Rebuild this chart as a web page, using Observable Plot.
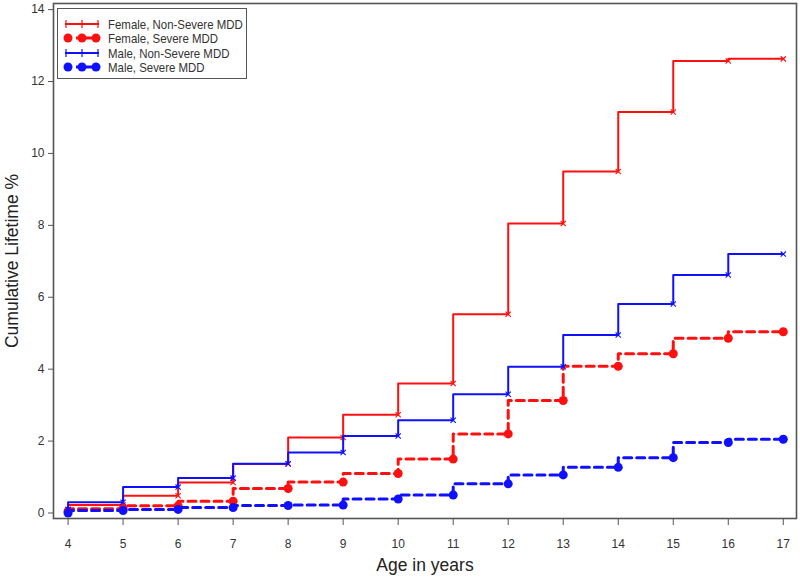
<!DOCTYPE html>
<html><head><meta charset="utf-8">
<script src="https://cdn.jsdelivr.net/npm/d3@7"></script>
<script src="https://cdn.jsdelivr.net/npm/@observablehq/plot@0.6"></script>
<style>
body{margin:0;background:#fff;font-family:"Liberation Sans",Arial,sans-serif}
#wrap{position:relative;width:800px;height:581px;overflow:hidden}
#legend{position:absolute;left:57px;top:8px;width:188px;height:69px;border:1.5px solid #555;background:#fff;box-sizing:content-box}
.row{position:absolute;left:0;height:14px;display:flex;align-items:center}
.row svg{margin-left:5px}
.row span{margin-left:7px;font-size:13px;color:#333;white-space:nowrap;display:inline-block;transform:scaleX(0.88);transform-origin:left center}
g[aria-label="x-axis label"] text, g[aria-label="y-axis label"] text{font-size:17.5px;fill:#222}
</style>
</head><body>
<div id="wrap"><div id="chart"></div><div id="legend"></div></div>
<script>
const ages = [4,5,6,7,8,9,10,11,12,13,14,15,16,17];
const femaleNonSevere = [0.10,0.22,0.48,0.85,1.36,2.10,2.73,3.60,5.53,8.05,9.50,11.15,12.57,12.63];
const femaleSevere    = [0.05,0.12,0.20,0.33,0.68,0.86,1.10,1.50,2.20,3.13,4.08,4.43,4.86,5.04];
const maleNonSevere   = [0.10,0.30,0.72,0.97,1.37,1.68,2.14,2.58,3.30,4.07,4.95,5.81,6.62,7.20];
const maleSevere      = [0.00,0.07,0.10,0.15,0.21,0.22,0.39,0.50,0.81,1.06,1.27,1.54,1.96,2.05];
const seriesNames = ["Female, Non-Severe MDD","Female, Severe MDD","Male, Non-Severe MDD","Male, Severe MDD"];
const yTicks = [0,2,4,6,8,10,12,14];

const RED = "#ff1010", BLUE = "#1010ff";
const rows = (vals) => ages.map((a,i)=>({age:a, value:vals[i]}));
const fns = rows(femaleNonSevere), fs = rows(femaleSevere), mns = rows(maleNonSevere), ms = rows(maleSevere);

const solid = (data, color) => [
  Plot.line(data,{x:"age",y:"value",curve:"step-before",stroke:color,strokeWidth:2}),
  Plot.dot(data,{x:"age",y:"value",symbol:"times",r:2.5,stroke:color,strokeWidth:1.1})
];
const dashed = (data, color) => [
  Plot.line(data,{x:"age",y:"value",curve:"step-before",stroke:color,strokeWidth:3,strokeDasharray:"8,5"}),
  Plot.dot(data,{x:"age",y:"value",r:4.5,fill:color,stroke:"none"})
];

const chart = Plot.plot({
  width:800, height:581,
  marginLeft:53, marginRight:4, marginTop:3, marginBottom:63,
  style:{fontFamily:"Liberation Sans, Arial, sans-serif", color:"#333", background:"#fff"},
  x:{domain:[3.735,17.24]},
  y:{domain:[-0.153,14.17]},
  marks:[
    Plot.axisX({ticks:ages, tickFormat:d=>String(d), tickSize:7, tickPadding:14, fontSize:12, stroke:"#555",
      label:"Age in years", labelAnchor:"center", labelOffset:52, labelArrow:"none"}),
    Plot.axisY({ticks:yTicks, tickFormat:d=>String(d), tickSize:5, tickPadding:4, fontSize:12, stroke:"#555",
      label:"Cumulative Lifetime %", labelAnchor:"center", labelOffset:48, labelArrow:"none"}),
    ...solid(fns, RED),
    ...dashed(fs, RED),
    ...solid(mns, BLUE),
    ...dashed(ms, BLUE),
    Plot.frame({stroke:"#555", strokeWidth:1.6})
  ]
});
document.getElementById("chart").appendChild(chart);

// legend
const legend = document.getElementById("legend");
const colors = [RED, RED, BLUE, BLUE];
const isSevere = [false,true,false,true];
const rowTops = [8,22,37,51];
seriesNames.forEach((name,i)=>{
  const r = document.createElement("div");
  r.className = "row"; r.style.top = rowTops[i]+"px";
  const c = colors[i];
  let svg;
  if(!isSevere[i]){
    svg = `<svg width="38" height="14"><line x1="2" y1="7" x2="36" y2="7" stroke="${c}" stroke-width="2"/>`+
      [3,19,35].map(x=>`<path d="M${x},${3}L${x},${11}" stroke="${c}" stroke-width="1.2"/>`).join("")+`</svg>`;
  } else {
    svg = `<svg width="38" height="14"><line x1="3" y1="7" x2="35" y2="7" stroke="${c}" stroke-width="3" stroke-dasharray="6,4"/>`+
      [5,19,33].map(x=>`<circle cx="${x}" cy="7" r="4.5" fill="${c}"/>`).join("")+`</svg>`;
  }
  r.innerHTML = svg + `<span>${name}</span>`;
  legend.appendChild(r);
});
</script>
</body></html>
